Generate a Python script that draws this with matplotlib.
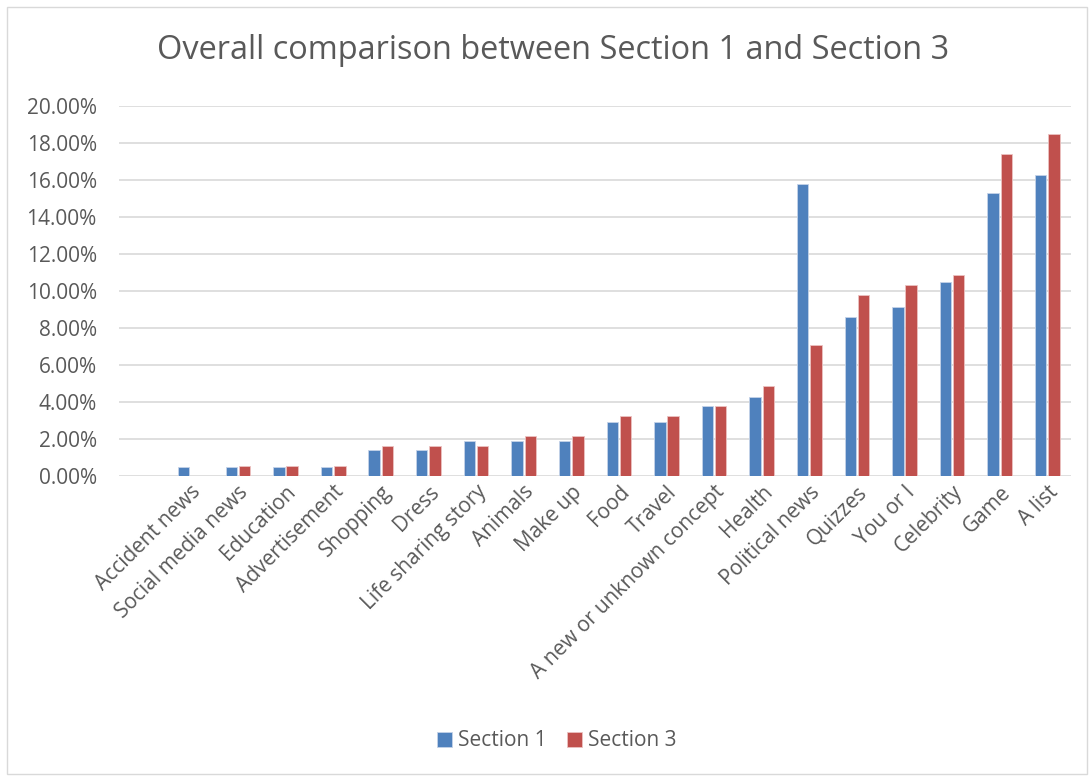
import matplotlib.pyplot as plt
import numpy as np
from matplotlib.patches import Rectangle
from matplotlib.ticker import PercentFormatter

categories = ['Accident news', 'Social media news', 'Education', 'Advertisement',
              'Shopping', 'Dress', 'Life sharing story', 'Animals', 'Make up',
              'Food', 'Travel', 'A new or unknown concept', 'Health',
              'Political news', 'Quizzes', 'You or I', 'Celebrity', 'Game', 'A list']
section1 = [0.50, 0.50, 0.50, 0.50, 1.40, 1.40, 1.89, 1.89, 1.89, 2.90, 2.90,
            3.80, 4.27, 15.79, 8.60, 9.11, 10.49, 15.30, 16.27]
section3 = [0.00, 0.54, 0.54, 0.54, 1.63, 1.63, 1.63, 2.17, 2.17, 3.26, 3.26,
            3.80, 4.89, 7.07, 9.78, 10.33, 10.87, 17.39, 18.48]

plt.rcParams['font.family'] = ['Open Sans', 'DejaVu Sans']
plt.rcParams['ytick.major.pad'] = 16
plt.rcParams['xtick.major.pad'] = 4
text_col = '#595959'

fig = plt.figure(figsize=(10.91, 7.76), dpi=100)
fig.patches.append(Rectangle((0.006, 0.003), 0.99, 0.988, transform=fig.transFigure,
                             fill=False, edgecolor='#d9d9d9', lw=1))
ax = fig.add_axes([0.109, 0.3866, 0.8728, 0.4768])

x = np.arange(len(categories))
w = 0.24
ax.bar(x - 0.139, section1, w, color='#4F81BD', edgecolor='#c5d3e8', lw=0.6, label='Section 1', zorder=3)
ax.bar(x + 0.139, section3, w, color='#C0504D', edgecolor='#ecc2c1', lw=0.6, label='Section 3', zorder=3)

ax.set_xlim(-1.5, 18.5)
ax.set_ylim(0, 20)
ax.set_yticks(np.arange(0, 21, 2))
ax.yaxis.set_major_formatter(PercentFormatter(decimals=2))
ax.grid(axis='y', color='#d9d9d9', lw=1.2, zorder=0)
for s in ax.spines.values():
    s.set_visible(False)
ax.tick_params(length=0, colors=text_col, labelsize=15)
ax.set_xticks(x)
ax.set_xticklabels(categories, rotation=45, ha='right', rotation_mode='anchor')

fig.text(0.507, 0.935, 'Overall comparison between Section 1 and Section 3',
         ha='center', va='center', fontsize=23.4, color=text_col)

fig.legend(loc='center', bbox_to_anchor=(557 / 1091, 1 - 741 / 776), ncol=2, frameon=False,
           fontsize=15, labelcolor=text_col, handlelength=0.7, handleheight=0.7,
           handletextpad=0.3, columnspacing=1.0)

fig.savefig('out.png', dpi=100)
